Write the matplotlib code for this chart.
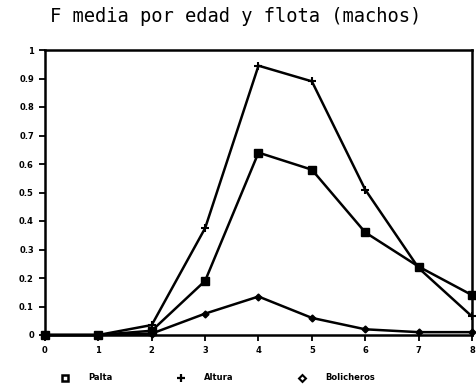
import matplotlib
matplotlib.use("Agg")
import matplotlib.pyplot as plt
from matplotlib.lines import Line2D

edades = [0, 1, 2, 3, 4, 5, 6, 7, 8]
palta = [0.0, 0.0, 0.015, 0.19, 0.64, 0.58, 0.36, 0.24, 0.14]
altura = [0.0, 0.0, 0.035, 0.375, 0.945, 0.89, 0.51, 0.235, 0.065]
bolicheros = [0.0, 0.0, 0.005, 0.075, 0.135, 0.06, 0.02, 0.01, 0.01]
yticks = [0, 0.1, 0.2, 0.3, 0.4, 0.5, 0.6, 0.7, 0.8, 0.9, 1]
ylabels = ["0", "0.1", "0.2", "0.3", "0.4", "0.5", "0.6", "0.7", "0.8", "0.9", "1"]

fig = plt.figure(figsize=(4.77, 3.86), dpi=100)
ax = fig.add_axes([45/477, 1-335/386, (472-45)/477, (335-50)/386])

lw = 1.8
ax.plot(edades, palta, color="black", lw=lw, marker="s", ms=5.5, clip_on=False, zorder=3)
ax.plot(edades, altura, color="black", lw=lw, marker="+", ms=6, mew=1.5, clip_on=False, zorder=3)
ax.plot(edades, bolicheros, color="black", lw=lw, marker="D", ms=3.5, clip_on=False, zorder=3)

ax.set_xlim(0, 8)
ax.set_ylim(0, 1)
ax.set_xticks(edades)
ax.set_xticklabels([str(e) for e in edades], fontsize=6, fontweight="bold")
ax.set_yticks(yticks)
ax.set_yticklabels(ylabels, fontsize=6, fontweight="bold")
ax.tick_params(direction="out", length=4, width=1.3, pad=4)
for s in ax.spines.values():
    s.set_linewidth(1.8)

fig.text(236/477, 1-17/386, "F media por edad y flota (machos)", ha="center", va="center",
         fontsize=13.5, family="DejaVu Sans Mono")

handles = [
    Line2D([], [], color="black", marker="s", ls="none", ms=5, mfc="white", mew=1.8),
    Line2D([], [], color="black", marker="+", ls="none", ms=6, mew=1.6),
    Line2D([], [], color="black", marker="D", ls="none", ms=3.5, mfc="white", mew=1.5),
]
fig.legend(handles, ["Palta", "Altura", "Bolicheros"], loc="center left",
           bbox_to_anchor=(57/477, 1-378/386), ncol=3, frameon=False,
           prop={"size": 6, "weight": "bold"}, columnspacing=7.3, handletextpad=1.7,
           borderpad=0, borderaxespad=0)

fig.savefig("out.png", dpi=100)
